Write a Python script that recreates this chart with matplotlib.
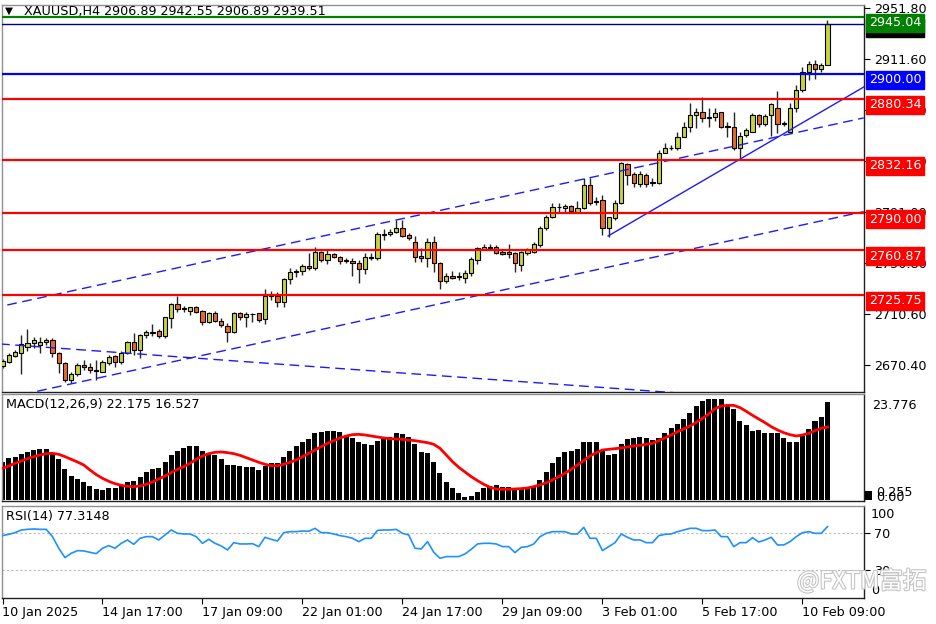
import matplotlib
matplotlib.use("Agg")
import matplotlib.pyplot as plt
import matplotlib.transforms as mtransforms
import matplotlib.patheffects as pe
import numpy as np

plt.rcParams['font.family'] = ['DejaVu Sans']

# ---------------- data ----------------
opens = [2669.9, 2673.0, 2677.7, 2680.1, 2684.8, 2687.5, 2686.2, 2688.8, 2690.1, 2679.6,
         2672.2, 2658.6, 2663.1, 2670.2, 2669.1, 2666.2, 2665.1, 2671.8, 2677.5, 2672.5,
         2679.6, 2688.3, 2682.2, 2694.1, 2695.6, 2697.2, 2693.3, 2707.7, 2718.3, 2715.1,
         2713.2, 2715.9, 2713.0, 2704.5, 2711.2, 2705.3, 2701.2, 2696.7, 2711.2, 2708.0,
         2710.8, 2711.2, 2706.4, 2725.3, 2724.8, 2719.8, 2738.0, 2744.3, 2744.5, 2748.7,
         2746.6, 2759.2, 2753.2, 2757.7, 2755.3, 2752.9, 2752.6, 2750.6, 2745.8, 2755.8,
         2754.5, 2773.7, 2773.4, 2775.5, 2778.2, 2772.9, 2767.6, 2756.3, 2754.5, 2767.6,
         2751.0, 2736.9, 2740.6, 2739.8, 2738.7, 2742.7, 2753.2, 2761.6, 2762.4, 2763.7,
         2759.2, 2759.2, 2758.9, 2749.2, 2758.9, 2759.7, 2765.0, 2778.2, 2786.8, 2795.2,
         2793.9, 2796.0, 2791.2, 2793.9, 2812.3, 2799.4, 2800.5, 2778.2, 2786.0, 2797.9,
         2828.8, 2821.0, 2813.1, 2820.2, 2813.6, 2813.6, 2837.7, 2841.8, 2841.2, 2850.4,
         2858.2, 2867.5, 2869.6, 2865.3, 2866.1, 2869.6, 2858.8, 2858.2, 2841.2, 2851.7,
         2854.3, 2867.5, 2860.1, 2867.5, 2872.7, 2860.9, 2854.3, 2873.2, 2887.2, 2901.1,
         2907.4, 2903.7, 2906.89]
highs = [2675.1, 2679.6, 2682.2, 2694.1, 2698.6, 2692.7, 2692.7, 2691.7, 2691.5, 2680.9,
         2673.0, 2664.7, 2671.8, 2674.4, 2671.8, 2674.4, 2674.4, 2678.3, 2678.3, 2681.4,
         2689.3, 2695.4, 2694.6, 2698.0, 2702.5, 2698.6, 2708.5, 2719.0, 2724.8, 2716.9,
         2716.4, 2717.2, 2713.8, 2712.4, 2713.0, 2707.2, 2703.3, 2712.4, 2712.4, 2712.4,
         2711.4, 2711.6, 2730.1, 2728.7, 2728.2, 2738.7, 2746.6, 2746.1, 2750.0, 2758.5,
         2763.2, 2760.3, 2761.1, 2758.5, 2756.6, 2755.0, 2755.0, 2753.2, 2758.5, 2758.5,
         2775.5, 2777.6, 2777.6, 2784.7, 2784.7, 2774.2, 2772.3, 2762.9, 2770.3, 2772.1,
         2751.8, 2742.7, 2744.5, 2744.0, 2745.3, 2755.8, 2763.7, 2765.5, 2765.8, 2765.0,
         2761.1, 2765.8, 2759.7, 2760.3, 2762.4, 2767.6, 2780.0, 2788.6, 2797.9, 2797.9,
         2797.3, 2796.5, 2799.9, 2817.6, 2817.6, 2803.1, 2804.4, 2787.3, 2800.5, 2830.7,
         2829.9, 2822.8, 2823.6, 2821.5, 2817.8, 2839.9, 2845.2, 2843.8, 2853.8, 2861.7,
         2876.7, 2872.7, 2881.9, 2872.7, 2872.7, 2870.1, 2862.2, 2870.1, 2853.8, 2857.5,
         2868.8, 2868.3, 2868.0, 2876.7, 2886.4, 2862.7, 2876.7, 2891.1, 2905.5, 2910.0,
         2910.8, 2908.5, 2942.55]
lows = [2668.3, 2671.8, 2677.0, 2663.1, 2681.4, 2683.6, 2679.6, 2686.2, 2677.0, 2663.9,
        2657.2, 2656.0, 2662.0, 2666.5, 2663.9, 2658.6, 2664.7, 2670.4, 2669.1, 2671.4,
        2678.8, 2678.3, 2676.2, 2691.9, 2693.5, 2691.5, 2691.9, 2699.8, 2712.4, 2712.2,
        2709.8, 2711.2, 2701.9, 2703.3, 2704.1, 2700.6, 2688.8, 2695.9, 2705.9, 2700.6,
        2704.5, 2704.5, 2702.7, 2721.6, 2716.4, 2716.4, 2734.0, 2739.5, 2741.4, 2745.3,
        2745.3, 2751.8, 2749.8, 2755.0, 2749.8, 2750.6, 2740.8, 2735.3, 2741.9, 2753.2,
        2753.2, 2768.9, 2772.1, 2774.2, 2771.5, 2768.9, 2751.8, 2751.4, 2747.9, 2744.0,
        2730.3, 2734.8, 2738.0, 2737.4, 2734.8, 2740.6, 2750.0, 2761.1, 2761.1, 2757.9,
        2757.1, 2754.5, 2744.0, 2744.7, 2757.1, 2758.5, 2763.7, 2776.8, 2786.0, 2791.2,
        2791.2, 2791.2, 2790.0, 2793.4, 2796.5, 2796.5, 2772.9, 2771.5, 2784.7, 2797.1,
        2812.3, 2810.9, 2810.5, 2810.5, 2811.5, 2813.1, 2837.3, 2839.9, 2839.9, 2849.9,
        2854.3, 2857.5, 2862.2, 2858.2, 2862.7, 2857.0, 2850.4, 2839.9, 2833.8, 2850.4,
        2854.3, 2858.2, 2859.0, 2851.1, 2853.0, 2859.0, 2853.0, 2870.1, 2885.4, 2895.0,
        2895.8, 2901.6, 2906.89]
closes = [2673.6, 2678.3, 2680.9, 2686.7, 2687.5, 2690.1, 2688.8, 2689.9, 2679.6, 2671.8,
          2658.6, 2663.3, 2670.4, 2668.6, 2666.5, 2665.4, 2672.5, 2677.0, 2673.0, 2679.9,
          2688.3, 2682.0, 2694.1, 2696.7, 2696.7, 2693.3, 2708.0, 2718.5, 2714.6, 2714.3,
          2715.9, 2712.4, 2704.1, 2711.2, 2705.3, 2701.9, 2696.7, 2711.2, 2708.0, 2710.6,
          2710.4, 2705.9, 2724.8, 2724.8, 2719.8, 2738.0, 2744.0, 2743.7, 2748.7, 2746.6,
          2759.2, 2753.2, 2757.9, 2755.8, 2752.4, 2752.4, 2750.6, 2745.8, 2755.8, 2754.5,
          2773.4, 2773.2, 2775.5, 2778.2, 2772.3, 2770.8, 2755.8, 2754.5, 2767.6, 2751.0,
          2736.9, 2740.6, 2738.7, 2740.3, 2742.7, 2753.7, 2762.4, 2763.7, 2763.7, 2758.5,
          2757.7, 2757.9, 2750.6, 2759.2, 2761.1, 2765.8, 2778.2, 2786.8, 2795.2, 2794.7,
          2796.0, 2792.0, 2793.9, 2812.3, 2798.3, 2798.9, 2778.2, 2786.8, 2797.9, 2829.4,
          2820.2, 2813.6, 2821.0, 2813.1, 2814.9, 2837.7, 2841.7, 2841.5, 2850.4, 2858.2,
          2867.5, 2869.6, 2864.9, 2865.9, 2869.3, 2858.2, 2858.2, 2841.2, 2851.1, 2855.6,
          2867.5, 2860.1, 2866.9, 2875.9, 2860.1, 2860.4, 2873.2, 2887.2, 2901.1, 2907.4,
          2903.7, 2906.9, 2939.51]

macd_hist = [8.68, 9.43, 9.81, 10.41, 10.94, 11.32, 11.55, 11.55, 10.57, 9.28,
             6.94, 5.43, 4.68, 4.15, 3.17, 2.49, 2.26, 2.72, 2.72, 3.40,
             4.00, 4.30, 5.28, 6.34, 7.09, 7.25, 8.53, 10.19, 11.09, 11.85,
             12.23, 12.23, 11.09, 10.72, 10.19, 9.28, 7.92, 7.92, 7.70, 7.55,
             7.40, 6.79, 7.70, 8.45, 8.45, 9.81, 11.09, 12.23, 13.21, 13.81,
             15.09, 15.47, 15.70, 15.70, 15.40, 14.49, 13.96, 13.06, 12.68, 12.45,
             13.36, 13.74, 14.34, 15.09, 14.87, 14.19, 12.60, 10.87, 10.57, 8.68,
             6.04, 4.15, 2.64, 1.51, 0.75, 0.91, 1.74, 2.64, 3.17, 3.40,
             3.02, 3.02, 2.42, 2.42, 2.64, 3.02, 4.53, 6.41, 8.30, 9.66,
             10.79, 11.09, 11.47, 13.06, 13.06, 13.06, 11.09, 10.19, 10.34, 12.68,
             13.81, 13.96, 14.34, 14.11, 13.58, 13.96, 15.24, 16.38, 17.21, 18.26,
             19.62, 21.36, 22.41, 22.79, 22.79, 22.79, 21.51, 20.53, 17.96, 16.98,
             15.70, 15.85, 15.09, 15.09, 15.24, 14.11, 13.06, 13.21, 14.49, 16.08,
             17.89, 18.72, 22.175]
macd_signal = [7.17, 7.70, 8.30, 8.83, 9.36, 9.81, 10.19, 10.49, 10.57, 10.34,
               9.81, 9.21, 8.60, 7.92, 6.79, 5.74, 4.91, 4.23, 3.70, 3.32,
               3.09, 3.02, 3.17, 3.55, 4.08, 4.75, 5.43, 6.19, 6.94, 7.55,
               8.30, 9.21, 9.96, 10.49, 10.79, 10.87, 10.72, 10.49, 10.11, 9.58,
               9.06, 8.53, 8.08, 7.77, 7.77, 8.08, 8.53, 9.06, 9.81, 10.57,
               11.32, 12.08, 12.83, 13.43, 14.04, 14.49, 14.79, 14.87, 14.72, 14.49,
               14.26, 14.04, 13.89, 13.81, 13.74, 13.58, 13.43, 13.21, 12.98, 12.60,
               11.70, 10.19, 8.68, 7.40, 6.34, 5.28, 4.38, 3.55, 2.87, 2.49,
               2.42, 2.42, 2.49, 2.57, 2.72, 3.02, 3.40, 3.92, 4.53, 5.28,
               6.04, 6.94, 7.92, 8.91, 9.96, 10.72, 11.32, 11.47, 11.62, 11.77,
               12.00, 12.23, 12.38, 12.60, 12.83, 13.43, 14.04, 14.72, 15.47, 16.08,
               16.75, 17.58, 18.49, 19.47, 20.68, 21.28, 21.43, 21.43, 20.91, 20.08,
               19.17, 18.34, 17.51, 16.60, 15.85, 15.24, 14.79, 14.49, 14.72, 15.09,
               15.70, 16.23, 16.527]
rsi_values = [67.5, 68.9, 70.7, 73.6, 74.3, 74.7, 74.3, 74.3, 66.4, 53.8,
              43.7, 48.4, 51.3, 50.9, 49.5, 48.0, 53.8, 56.7, 53.8, 59.2,
              62.8, 58.1, 64.6, 66.4, 66.4, 62.8, 68.2, 73.6, 70.0, 69.3,
              69.3, 66.4, 59.2, 63.5, 59.2, 56.3, 52.0, 59.9, 58.5, 58.5,
              58.8, 55.6, 65.7, 63.5, 61.7, 70.7, 71.8, 71.8, 72.5, 72.2,
              75.4, 70.7, 70.7, 69.3, 67.5, 66.4, 64.6, 61.0, 64.6, 64.6,
              73.2, 73.6, 73.6, 74.3, 70.0, 68.2, 53.8, 53.1, 61.0, 49.5,
              43.0, 44.8, 44.8, 44.8, 47.7, 52.7, 58.5, 59.2, 59.2, 58.5,
              55.6, 55.6, 49.1, 54.9, 55.6, 58.5, 66.4, 70.0, 71.8, 71.8,
              71.8, 69.3, 69.3, 76.5, 64.6, 64.6, 51.3, 55.6, 59.9, 69.3,
              65.7, 62.8, 62.8, 59.9, 59.9, 67.5, 68.9, 69.3, 71.8, 73.6,
              75.4, 75.4, 72.9, 72.9, 73.6, 66.4, 66.4, 55.6, 59.9, 59.9,
              65.3, 60.6, 62.8, 65.7, 57.4, 57.4, 61.0, 66.4, 70.7, 71.8,
              70.0, 70.0, 77.3]

x_tick_bars = [0, 16, 32, 48, 64, 80, 96, 112, 128]
x_tick_labels = ['10 Jan 2025', '14 Jan 17:00', '17 Jan 09:00', '22 Jan 01:00',
                 '24 Jan 17:00', '29 Jan 09:00', '3 Feb 01:00', '5 Feb 17:00',
                 '10 Feb 09:00']
price_ticks = [2951.80, 2911.60, 2871.40, 2831.20, 2791.00, 2750.80, 2710.60, 2670.40]

level_prices = [2945.04, 2900.00, 2880.34, 2832.16, 2790.00, 2760.87, 2725.75]
level_colors = ['#008000', '#0000ff', '#ff0000', '#ff0000', '#ff0000', '#ff0000', '#ff0000']
bid_price = 2939.51

# trend lines: (bar index, price) anchors
upper_channel = ([0.77, 137.8], [2717.7, 2865.2])
lower_channel = ([0.77, 137.8], [2644.6, 2791.3])
falling_line = ([-0.4, 110.0], [2687.0, 2647.7])
rising_line = ([96.9, 137.8], [2772.1, 2889.5])

title_text = 'XAUUSD,H4 2906.89 2942.55 2906.89 2939.51'
macd_text = 'MACD(12,26,9) 22.175 16.527'
rsi_text = 'RSI(14) 77.3148'

# ---------------- figure ----------------
W, H = 936, 624
fig = plt.figure(figsize=(W / 100, H / 100), dpi=100)
fig.patch.set_facecolor('white')

def fx(px):
    return px / W

def fy(py):
    return 1 - py / H

left, right = 2, 864
ax = fig.add_axes([fx(left), fy(392), fx(right - left), (392 - 5) / H])
axm = fig.add_axes([fx(left), fy(501), fx(right - left), (501 - 394) / H], sharex=ax)
axr = fig.add_axes([fx(left), fy(598), fx(right - left), (598 - 505.6) / H], sharex=ax)

FS = 9.2
n = len(opens)
idx = np.arange(n)
xlim = (-0.08, 137.84)

for a in (ax, axm, axr):
    a.set_facecolor('white')
    for s in ('left', 'top'):
        a.spines[s].set_color('#909090')
    for s in ('right', 'bottom'):
        a.spines[s].set_color('#202020')
    for s in a.spines.values():
        s.set_linewidth(1)
    a.yaxis.tick_right()
    a.tick_params(axis='y', direction='out', length=4, width=0.8, pad=3,
                  labelsize=FS, colors='black')
    a.tick_params(axis='x', bottom=False, labelbottom=False)
    a.set_xlim(*xlim)

# ----- main price panel -----
o = np.array(opens); c = np.array(closes); h = np.array(highs); l = np.array(lows)
up = c >= o
ax.vlines(idx, l, h, color='#262626', lw=1, zorder=2)
bb = np.minimum(o, c)
bh = np.maximum(np.abs(c - o), 0.3)
ax.bar(idx[up], bh[up], bottom=bb[up], width=0.68, color='#c8d43c',
       edgecolor='black', linewidth=0.8, zorder=3)
ax.bar(idx[~up], bh[~up], bottom=bb[~up], width=0.68, color='#ea6a2a',
       edgecolor='black', linewidth=0.8, zorder=3)

ax.set_ylim(2649.13, 2954.16)
ax.set_yticks(price_ticks)
ax.set_yticklabels([f'{p:.2f}' for p in price_ticks])

for bars, prices in (upper_channel, lower_channel, falling_line):
    ax.plot(bars, prices, color='#1a1aff', lw=1, ls=(0, (7, 4)), zorder=4)
ax.plot(rising_line[0], rising_line[1], color='#1a1aff', lw=1, zorder=4)

ax.axhline(bid_price, color='#000080', lw=1, zorder=4)
for p, col in zip(level_prices, level_colors):
    ax.axhline(p, color=col, lw=1.6, zorder=4)

def price_box(price, color, dy=-6):
    ax.annotate(f'{price:.2f}', xy=(1, price), xycoords=('axes fraction', 'data'),
                xytext=(5, dy), textcoords='offset pixels', ha='left', va='center',
                fontsize=FS, color='white', annotation_clip=False, zorder=10,
                bbox=dict(boxstyle='square,pad=0.2', fc=color, ec=color))

price_box(bid_price, '#000000', dy=-4)
for p, col in zip(level_prices, level_colors):
    price_box(p, col)

ax.text(0.004, 0.984, '\u25bc', transform=ax.transAxes,
        fontsize=7.5, ha='left', va='center', color='black', zorder=6)
ax.text(0.025, 0.983, title_text, transform=ax.transAxes, fontsize=FS,
        ha='left', va='center', color='black', zorder=6)

# ----- MACD panel -----
axm.bar(idx, macd_hist, width=0.8, color='black', zorder=2)
axm.plot(idx, macd_signal, color='#ff0000', lw=2, zorder=3)
axm.set_ylim(-0.23, 24.0)
axm.set_yticks([])
tm = mtransforms.blended_transform_factory(axm.transAxes, axm.transData)
axm.text(1.009, 21.5, '23.776', transform=tm, fontsize=FS, ha='left', va='center')
axm.text(1.0135, 0.45, '0.00', transform=tm, fontsize=FS, ha='left', va='center')
axm.text(1.0135, 1.6, '0.255', transform=tm, fontsize=FS, ha='left', va='center')
axm.bar([138.6], [2.0], width=1.2, color='black', clip_on=False, zorder=5)
axm.text(0.005, 0.90, macd_text, transform=axm.transAxes, fontsize=FS,
         ha='left', va='center')

# ----- RSI panel -----
axr.plot(idx, rsi_values, color='#1e90ff', lw=1.2, zorder=3)
for lv in (70, 30):
    axr.axhline(lv, color='#b8b8b8', lw=0.8, ls=(0, (2, 2)), zorder=1)
axr.set_ylim(0, 100)
axr.set_yticks([70, 30])
axr.set_yticklabels(['70', '30'])
tr = mtransforms.blended_transform_factory(axr.transAxes, axr.transData)
axr.text(1.008, 90, '100', transform=tr, fontsize=FS, ha='left', va='center')
axr.text(1.008, 8.6, '0', transform=tr, fontsize=FS, ha='left', va='center')
axr.text(0.005, 0.88, rsi_text, transform=axr.transAxes, fontsize=FS,
         ha='left', va='center')

axr.tick_params(axis='x', bottom=True, labelbottom=True, direction='out',
                length=4, width=0.8, pad=2, labelsize=FS, colors='black')
axr.set_xticks(x_tick_bars)
axr.set_xticklabels(x_tick_labels)
for lab in axr.get_xticklabels():
    lab.set_horizontalalignment('left')

# watermark
fig.text(fx(797), fy(581), '@FXTM富拓', fontsize=17, color='white',
         family=['Noto Sans CJK SC', 'DejaVu Sans'], ha='left', va='center', zorder=20,
         path_effects=[pe.withStroke(linewidth=1.6, foreground='#c4c4c4')])

fig.savefig('out.png', dpi=100, facecolor='white')
